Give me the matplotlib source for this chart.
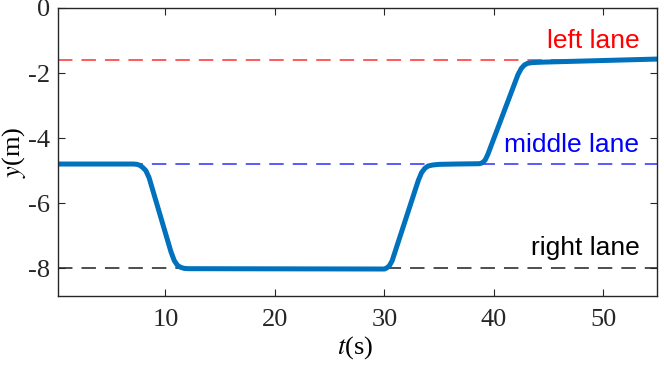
import matplotlib
matplotlib.use("Agg")
import matplotlib.pyplot as plt

# trajectory samples
t = [0.2, 7.1, 7.4, 7.65, 7.9, 8.2, 8.5, 10.5, 10.8, 11.1, 11.4, 11.7, 12.1, 13.0,
     30.0, 30.2, 30.45, 30.7, 33.1, 33.4, 33.7, 34.0, 34.4, 35.0, 36.5,
     38.7, 38.95, 39.2, 39.45, 42.2, 42.5, 42.8, 43.1, 43.5, 44.5, 55.0]
y = [-4.80, -4.80, -4.81, -4.84, -4.90, -5.00, -5.22, -7.50, -7.77, -7.92, -7.98, -8.01, -8.02, -8.02,
     -8.03, -8.00, -7.93, -7.78, -5.30, -5.06, -4.93, -4.86, -4.83, -4.81, -4.80,
     -4.79, -4.76, -4.68, -4.50, -2.05, -1.86, -1.75, -1.70, -1.68, -1.665, -1.57]

lane_y = [-1.6, -4.8, -8.0]
lane_names = ["left lane", "middle lane", "right lane"]
lane_colors = ["#ff4d4d", "#4d4dff", "#404040"]
text_colors = ["#ff0000", "#0000ff", "#000000"]
text_y = [-1.23, -4.43, -7.6]

xticks = [10, 20, 30, 40, 50]
yticks = [0, -2, -4, -6, -8]

plt.rcParams['font.family'] = ['Liberation Serif', 'DejaVu Serif']
plt.rcParams['mathtext.fontset'] = 'stix'
plt.rcParams['axes.unicode_minus'] = False

fig = plt.figure(figsize=(6.64, 3.68), dpi=100)
ax = fig.add_axes([58/664, 1 - 296/368, (657-58)/664, (296-8)/368])

for ly, c in zip(lane_y, lane_colors):
    ax.axhline(ly, color=c, lw=1.3, dashes=(8, 5), zorder=1)

ax.plot(t, y, color="#0072BD", lw=3.6, solid_capstyle='round', solid_joinstyle='round', zorder=2)

for ty, name, c in zip(text_y, lane_names, text_colors):
    ax.text(53.3, ty, name, color=c, ha='right', va='baseline', fontsize=19,
            family=['Liberation Sans', 'DejaVu Sans'])

ax.set_xlim(0.18, 54.9)
ax.set_ylim(-8.86, 0)
ax.set_xticks(xticks)
ax.set_yticks(yticks)
ax.tick_params(direction='in', labelsize=19, length=5, width=0.8, colors='#262626',
               top=True, right=True)
ax.tick_params(axis='x', pad=9)
ax.tick_params(axis='y', pad=6)
for s in ax.spines.values():
    s.set_color('#262626')
    s.set_linewidth(1.0)

ax.set_xlabel(r'$t$(s)', fontsize=19)
ax.set_ylabel(r'$y$(m)', fontsize=19)
ax.xaxis.set_label_coords((355 - 58) / 599, -(348 - 296) / 288)
ax.yaxis.set_label_coords((14 - 58) / 599, 0.5)
ax.xaxis.label.set_va('center')
ax.yaxis.label.set_va('center')

fig.savefig("out.png", dpi=100)
